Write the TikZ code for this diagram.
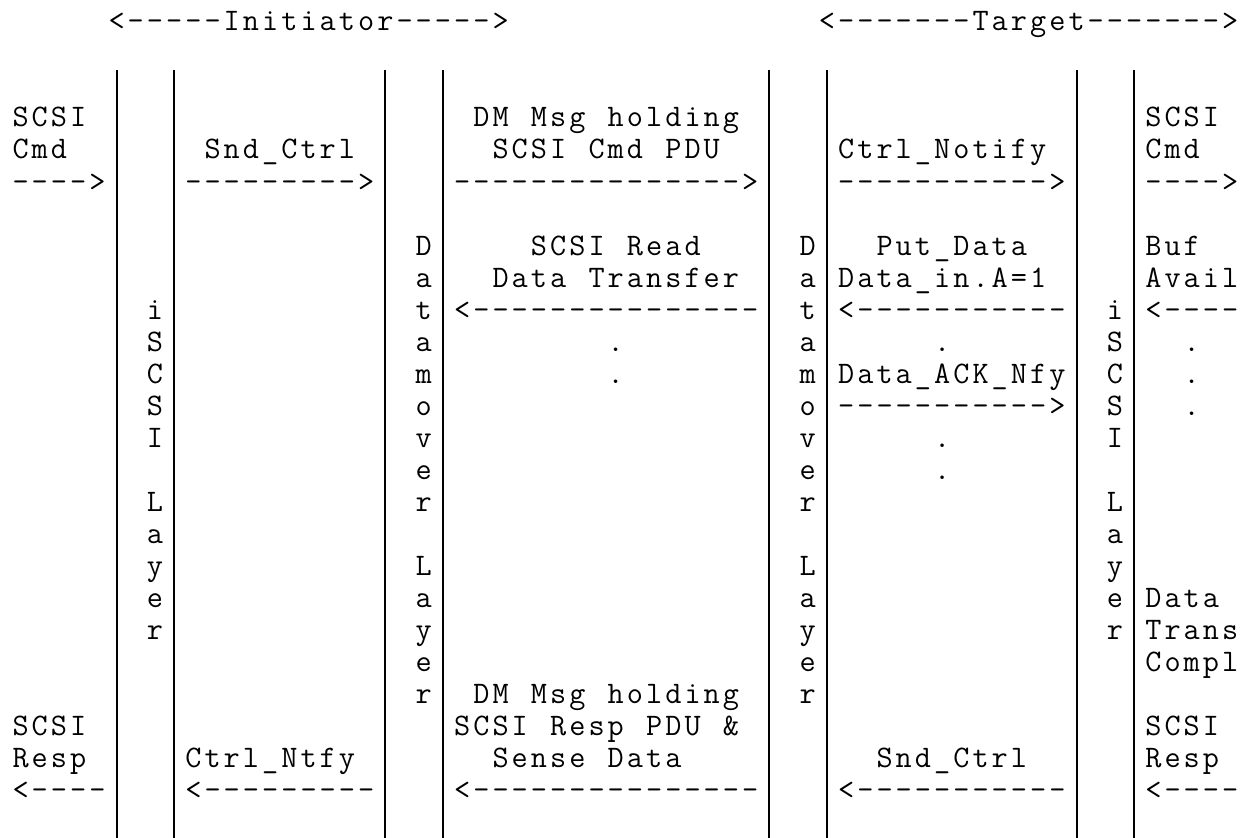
\documentclass[tikz,border=0pt]{standalone}
\newlength\gcw
\setlength\gcw{14.4pt}
\newcommand\gtfont{\fontsize{23.5pt}{24pt}\selectfont\ttfamily}
\newcommand\gtxt[1]{\gtloop#1\relax}
\def\gtloop#1{\ifx#1\relax\else\makebox[\gcw][c]{#1}\expandafter\gtloop\fi}
\newcommand\gp[2]{({11+19.2*#1},{31+32*#2})}
\tikzset{
  txt/.style={anchor=base west, inner sep=0pt, outer sep=0pt, font=\gtfont, text=black},
  bar/.style={line width=1.5pt, draw=black},
}
\begin{document}
\begin{tikzpicture}[x=0.75pt,y=-0.75pt]
\useasboundingbox (0,0) rectangle (1245,838);
% vertical bars
\foreach \c [count=\k] in {5,8,19,22,39,42,55,58}{
  \coordinate (bt\k) at ({11+19.2*(\c+0.5)},70);
  \coordinate (bb\k) at ({11+19.2*(\c+0.5)},838);
  \draw[bar] (bt\k) -- (bb\k);
}
% header
\node[txt] (hinit) at \gp{5}{0} {\gtxt{<-----Initiator----->}};
\node[txt] (htarg) at \gp{42}{0} {\gtxt{<-------Target------->}};
% row 3
\node[txt] (a3) at \gp{0}{3} {\gtxt{SCSI}};
\node[txt] (e3) at \gp{24}{3} {\gtxt{DM~Msg~holding}};
\node[txt] (i3) at \gp{59}{3} {\gtxt{SCSI}};
% row 4
\node[txt] (a4) at \gp{0}{4} {\gtxt{Cmd}};
\node[txt] (c4) at \gp{10}{4} {\gtxt{Snd\_Ctrl}};
\node[txt] (e4) at \gp{25}{4} {\gtxt{SCSI~Cmd~PDU}};
\node[txt] (g4) at \gp{43}{4} {\gtxt{Ctrl\_Notify}};
\node[txt] (i4) at \gp{59}{4} {\gtxt{Cmd}};
% row 5
\node[txt] (a5) at \gp{0}{5} {\gtxt{---->}};
\node[txt] (c5) at \gp{9}{5} {\gtxt{--------->}};
\node[txt] (e5) at \gp{23}{5} {\gtxt{--------------->}};
\node[txt] (g5) at \gp{43}{5} {\gtxt{----------->}};
\node[txt] (i5) at \gp{59}{5} {\gtxt{---->}};
% row 7
\node[txt] (e7) at \gp{27}{7} {\gtxt{SCSI~Read}};
\node[txt] (g7) at \gp{45}{7} {\gtxt{Put\_Data}};
\node[txt] (i7) at \gp{59}{7} {\gtxt{Buf}};
% row 8
\node[txt] (e8) at \gp{25}{8} {\gtxt{Data~Transfer}};
\node[txt] (g8) at \gp{43}{8} {\gtxt{Data\_in.A=1}};
\node[txt] (i8) at \gp{59}{8} {\gtxt{Avail}};
% row 9
\node[txt] (e9) at \gp{23}{9} {\gtxt{<---------------}};
\node[txt] (g9) at \gp{43}{9} {\gtxt{<-----------}};
\node[txt] (i9) at \gp{59}{9} {\gtxt{<----}};
% dots
\node[txt] (e10) at \gp{31}{10} {\gtxt{.}};
\node[txt] (e11) at \gp{31}{11} {\gtxt{.}};
\node[txt] (g10) at \gp{48}{10} {\gtxt{.}};
\node[txt] (g13) at \gp{48}{13} {\gtxt{.}};
\node[txt] (g14) at \gp{48}{14} {\gtxt{.}};
\node[txt] (i10) at \gp{61}{10} {\gtxt{.}};
\node[txt] (i11) at \gp{61}{11} {\gtxt{.}};
\node[txt] (i12) at \gp{61}{12} {\gtxt{.}};
% rows 11-12
\node[txt] (g11) at \gp{43}{11} {\gtxt{Data\_ACK\_Nfy}};
\node[txt] (g12) at \gp{43}{12} {\gtxt{----------->}};
% rows 18-20
\node[txt] (i18) at \gp{59}{18} {\gtxt{Data}};
\node[txt] (i19) at \gp{59}{19} {\gtxt{Trans}};
\node[txt] (i20) at \gp{59}{20} {\gtxt{Compl}};
% row 21
\node[txt] (e21) at \gp{24}{21} {\gtxt{DM~Msg~holding}};
% row 22
\node[txt] (a22) at \gp{0}{22} {\gtxt{SCSI}};
\node[txt] (e22) at \gp{23}{22} {\gtxt{SCSI~Resp~PDU~\&}};
\node[txt] (i22) at \gp{59}{22} {\gtxt{SCSI}};
% row 23
\node[txt] (a23) at \gp{0}{23} {\gtxt{Resp}};
\node[txt] (c23) at \gp{9}{23} {\gtxt{Ctrl\_Ntfy}};
\node[txt] (e23) at \gp{25}{23} {\gtxt{Sense~Data}};
\node[txt] (g23) at \gp{45}{23} {\gtxt{Snd\_Ctrl}};
\node[txt] (i23) at \gp{59}{23} {\gtxt{Resp}};
% row 24
\node[txt] (a24) at \gp{0}{24} {\gtxt{<----}};
\node[txt] (c24) at \gp{9}{24} {\gtxt{<---------}};
\node[txt] (e24) at \gp{23}{24} {\gtxt{<---------------}};
\node[txt] (g24) at \gp{43}{24} {\gtxt{<-----------}};
\node[txt] (i24) at \gp{59}{24} {\gtxt{<----}};
% vertical layer labels
\foreach \ch [count=\r from 9] in {i,S,C,S,I,{},L,a,y,e,r}{
  \node[txt] (isl\r) at \gp{7}{\r} {\gtxt{\ch}};
  \node[txt] (isr\r) at \gp{57}{\r} {\gtxt{\ch}};
}
\foreach \ch [count=\r from 7] in {D,a,t,a,m,o,v,e,r,{},L,a,y,e,r}{
  \node[txt] (dml\r) at \gp{21}{\r} {\gtxt{\ch}};
  \node[txt] (dmr\r) at \gp{41}{\r} {\gtxt{\ch}};
}
\end{tikzpicture}
\end{document}
